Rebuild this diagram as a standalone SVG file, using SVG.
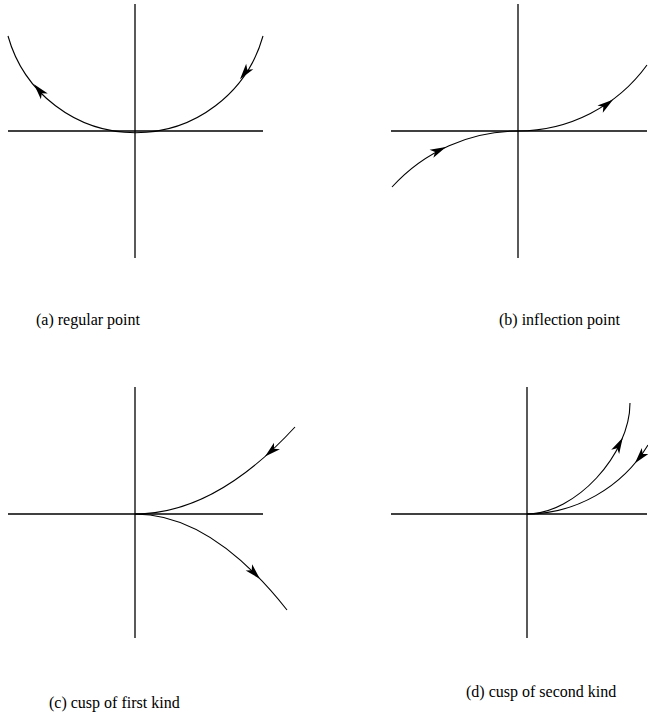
<svg xmlns="http://www.w3.org/2000/svg" xmlns:xlink="http://www.w3.org/1999/xlink" width="648" height="713" viewBox="0 0 648 713">
<style>
.ax{stroke:#000;stroke-width:1.3;fill:none}
.cv{stroke:#000;stroke-width:1.1;fill:none}
text{font-family:"Liberation Serif","Times New Roman","DejaVu Serif",serif;font-size:16px;fill:#000}
</style>
<defs>
<polygon id="ah" points="0,0 -16,-4.5 -12,0 -16,4.5" fill="#000"/>
</defs>
<rect width="648" height="713" fill="#fff"/>
<g id="panel-a">
<line class="ax" x1="135" y1="4" x2="135" y2="258"/>
<line class="ax" x1="8" y1="131" x2="263" y2="131"/>
<path class="cv" d="M8 36 A132.4 132.4 0 0 0 263 36"/>
<use xlink:href="#ah" transform="translate(240,79.2) rotate(127.5)"/>
<use xlink:href="#ah" transform="translate(34,84.2) rotate(229.7)"/>
<text font-family="Liberation Serif, serif" x="36" y="325">(a) regular point</text>
</g>
<g id="panel-b">
<line class="ax" x1="518" y1="4" x2="518" y2="258"/>
<line class="ax" x1="391" y1="131" x2="647" y2="131"/>
<path class="cv" d="M392 187 A170 170 0 0 1 518 131 A160 160 0 0 0 647 65"/>
<use xlink:href="#ah" transform="translate(446,147) rotate(-25)"/>
<use xlink:href="#ah" transform="translate(613,99.7) rotate(-36.5)"/>
<text font-family="Liberation Serif, serif" x="499" y="325">(b) inflection point</text>
</g>
<g id="panel-c">
<line class="ax" x1="135" y1="387" x2="135" y2="638"/>
<line class="ax" x1="8" y1="514" x2="263" y2="514"/>
<path class="cv" d="M135 514 Q215 514 295 427"/>
<path class="cv" d="M135 514 Q211 514 287 610"/>
<use xlink:href="#ah" transform="translate(265,456.6) rotate(138.5)"/>
<use xlink:href="#ah" transform="translate(260,578.9) rotate(46.1)"/>
<text font-family="Liberation Serif, serif" x="49" y="708">(c) cusp of first kind</text>
</g>
<g id="panel-d">
<line class="ax" x1="527" y1="387" x2="527" y2="638"/>
<line class="ax" x1="391" y1="514" x2="647" y2="514"/>
<path class="cv" d="M527 514 C575 514 630 455 630 403"/>
<path class="cv" d="M527 514 C575 514 622 488 648 445"/>
<use xlink:href="#ah" transform="translate(622.7,437.7) rotate(-62)"/>
<use xlink:href="#ah" transform="translate(634.9,463.2) rotate(130.2)"/>
<text font-family="Liberation Serif, serif" x="466" y="697">(d) cusp of second kind</text>
</g>
</svg>
